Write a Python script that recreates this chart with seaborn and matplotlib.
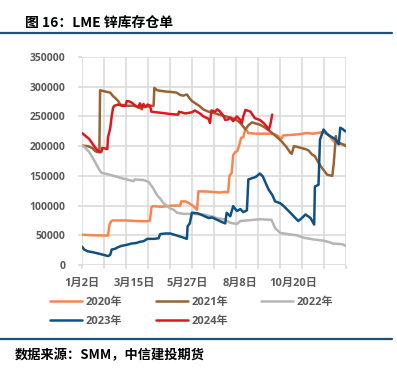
"""LME 锌库存仓单 — 2020-2024 年度对比折线图."""

import matplotlib

matplotlib.use("Agg")

import matplotlib.pyplot as plt
from matplotlib.lines import Line2D
import numpy as np
import seaborn as sns

# ---- 数据（横轴：自 1月2日 起的天数，纵轴：吨）----
years = ["2020年", "2021年", "2022年", "2023年", "2024年"]
colors = ["#F7864E", "#9A6233", "#B5B5B5", "#0E5186", "#E2161F"]

day_2020 = [0, 15, 34, 36, 38, 40, 42, 60, 75, 90, 94, 96, 98, 110, 125, 136, 137,
            143, 148, 154, 159, 161, 175, 190, 198, 202, 204, 207, 209, 212, 215,
            217, 220, 223, 225, 228, 230, 240, 260, 266, 270, 274, 276, 278, 290,
            300, 310, 320, 332, 340, 348, 352, 365]
val_2020 = [51000, 50000, 49500, 50000, 68000, 73000, 75000, 75000, 74000, 73500,
            75000, 97000, 99000, 98000, 100000, 100000, 107000, 107000, 104000,
            99000, 93000, 124000, 123500, 122000, 123000, 122000, 150000, 155000,
            185000, 190000, 192000, 200000, 214000, 215000, 225000, 226000, 222000,
            221000, 221000, 220000, 218000, 214000, 213000, 218000, 219000, 220000,
            222000, 221000, 223500, 220000, 208000, 205000, 202000]

day_2021 = [0, 8, 14, 18, 21, 24, 25, 32, 39, 43, 46, 50, 53, 60, 71, 78, 83, 84,
            88, 96, 99, 100, 104, 115, 125, 131, 136, 140, 145, 149, 152, 158, 163,
            168, 175, 182, 190, 196, 205, 210, 216, 221, 226, 230, 235, 246, 252,
            260, 267, 276, 283, 288, 290, 293, 300, 309, 313, 318, 322, 327, 332,
            339, 346, 348, 351, 352, 357, 365]
val_2021 = [201000, 200000, 197000, 192000, 190000, 190000, 294000, 292000, 290000,
            284000, 281000, 276000, 270000, 268000, 268000, 266000, 262000, 268000,
            266000, 268000, 268000, 298000, 294000, 292000, 291000, 290000, 286000,
            285000, 287000, 280000, 276000, 271000, 267000, 261500, 258000, 256000,
            253000, 251000, 248000, 246000, 242000, 236000, 228000, 235000, 240000,
            236000, 232000, 225000, 218000, 208000, 198000, 189000, 187000, 200000,
            198000, 195000, 193000, 186000, 183000, 172000, 163000, 152000, 150000,
            170000, 217000, 207000, 205000, 200000]

day_2022 = [0, 4, 10, 15, 20, 24, 27, 35, 44, 55, 65, 71, 73, 85, 92, 98, 104, 108,
            112, 117, 122, 127, 131, 140, 152, 168, 182, 186, 196, 205, 214, 219,
            246, 262, 267, 274, 285, 297, 306, 320, 334, 343, 347, 360, 365]
val_2022 = [201000, 198000, 190000, 180000, 169000, 160000, 155000, 153000, 150000,
            146000, 143000, 141000, 144000, 143000, 140000, 130000, 117000, 112000,
            105000, 100000, 95000, 93000, 88000, 86000, 86000, 85000, 81000, 79000,
            77000, 71000, 69000, 74000, 77000, 76000, 62000, 54000, 52000, 50000,
            46000, 43000, 41000, 38000, 36000, 35000, 32000]

day_2023 = [0, 3, 8, 13, 22, 30, 36, 39, 41, 45, 50, 54, 62, 68, 75, 80, 85, 89, 90,
            100, 106, 108, 115, 122, 130, 138, 145, 146, 149, 152, 160, 166, 175,
            180, 186, 194, 198, 200, 205, 209, 214, 219, 223, 228, 230, 235, 240,
            246, 250, 255, 258, 263, 267, 274, 279, 288, 299, 304, 309, 316, 321,
            322, 327, 329, 334, 339, 351, 355, 357, 360, 364]
val_2023 = [31000, 26000, 23000, 22000, 19500, 17000, 15000, 17000, 26000, 27000,
            30000, 32000, 34000, 36000, 37000, 39000, 40000, 43000, 44000, 44000,
            45000, 52000, 53000, 53000, 50000, 47000, 44000, 65000, 70000, 88000,
            87000, 84000, 79000, 80000, 76500, 72000, 70000, 88000, 82000, 99000,
            91000, 94000, 89000, 92000, 144000, 146000, 148000, 154000, 149000,
            135000, 127000, 118000, 107000, 104000, 99000, 88000, 74000, 79000,
            85000, 79000, 68000, 132000, 135000, 211000, 228000, 220000, 211000,
            203000, 231000, 229000, 225000]

day_2024 = [0, 6, 10, 14, 18, 22, 25, 27, 28, 32, 35, 36, 39, 41, 43, 45, 50, 55, 60,
            62, 66, 69, 74, 78, 80, 83, 85, 87, 91, 94, 96, 110, 122, 133, 134, 143,
            152, 156, 163, 168, 175, 177, 179, 184, 187, 191, 196, 198, 202, 205,
            209, 214, 219, 221, 223, 226, 233, 239, 246, 251, 256, 258, 260, 263]
val_2024 = [222000, 216000, 212000, 205000, 198000, 192000, 190000, 191000, 197000,
            196000, 195000, 215000, 230000, 250000, 265000, 268000, 270000, 268000,
            268000, 276000, 275000, 273000, 268000, 265000, 272000, 265000, 271000,
            266000, 270000, 268000, 258000, 256000, 254000, 253000, 258000, 255000,
            257000, 260000, 255000, 250000, 246000, 239000, 260000, 258000, 262000,
            258000, 250000, 244000, 245000, 248000, 242000, 250000, 244000, 239000,
            250000, 261000, 258000, 247000, 244000, 239000, 232000, 228000, 234000,
            253000]

tick_days = [0, 73, 146, 219, 292]
tick_labels = ["1月2日", "3月15日", "5月27日", "8月8日", "10月20日"]

series = [
    (day_2020, val_2020),
    (day_2021, val_2021),
    (day_2022, val_2022),
    (day_2023, val_2023),
    (day_2024, val_2024),
]

sns.set_theme(style="white")
plt.rcParams["font.family"] = ["Open Sans", "Noto Sans CJK SC", "DejaVu Sans"]
plt.rcParams["axes.unicode_minus"] = False

GRID = "#D9D9D9"
TEXT = "#595959"

fig = plt.figure(figsize=(3.97, 3.72), dpi=100)
ax = fig.add_axes([82 / 397, 1 - 265 / 372, 264 / 397, 208 / 372])

for (days, vals), year, color in zip(series, years, colors):
    sns.lineplot(x=days, y=vals, ax=ax, color=color, linewidth=1.8,
                 label=year, sort=False, estimator=None, legend=False)

ax.set_xlim(0, 365)
ax.set_ylim(0, 350000)
ax.set_yticks(np.arange(0, 350001, 50000))
ax.set_yticklabels([f"{v}" for v in range(0, 350001, 50000)])

# 主刻度 = 网格线，次刻度 = 日期标签
ax.xaxis.remove_overlapping_locs = False
ax.set_xticks(np.linspace(0, 365, 13))
ax.set_xticks(tick_days, minor=True)
ax.set_xticklabels(tick_labels, minor=True)
ax.tick_params(axis="x", which="major", length=3, color=GRID, width=1.1,
               labelbottom=False, bottom=True)
ax.tick_params(axis="x", which="minor", length=0, pad=9, labelsize=8,
               labelcolor=TEXT, bottom=True)
ax.tick_params(axis="y", length=3, color=GRID, width=1.1, pad=9,
               labelsize=7.5, labelcolor=TEXT, left=True)
for lab in ax.get_xticklabels(minor=True) + ax.get_yticklabels():
    lab.set_fontweight("bold")

ax.grid(True, which="major", color=GRID, linewidth=1.1)
ax.set_axisbelow(True)
for sp in ax.spines.values():
    sp.set_visible(False)
ax.set_xlabel("")
ax.set_ylabel("")

# 图例（两行三列，按行排列）
handles, labels = ax.get_legend_handles_labels()
order = [0, 3, 1, 4, 2]
leg = fig.legend([handles[i] for i in order], [labels[i] for i in order],
                 ncol=3, loc="upper left",
                 bbox_to_anchor=(50 / 397, 1 - 297 / 372), frameon=False,
                 borderpad=0, borderaxespad=0, handlelength=2.9,
                 handletextpad=0.3, columnspacing=3.0, labelspacing=0.7,
                 prop={"size": 8, "weight": "bold"})
for t in leg.get_texts():
    t.set_color(TEXT)
for h in leg.get_lines():
    h.set_linewidth(1.8)

# 标题与来源
fig.text(25 / 397, 1 - 23 / 372, "图 16：LME 锌库存仓单", ha="left", va="center",
         fontsize=10, fontweight="bold", color="#000000",
         family=["Noto Sans CJK SC", "DejaVu Sans"])
fig.text(15 / 397, 1 - 355 / 372, "数据来源：SMM，中信建投期货", ha="left",
         va="center", fontsize=9.5, fontweight="bold", fontstyle="italic",
         color="#000000", family=["Noto Sans CJK SC", "DejaVu Sans"])

fig.add_artist(Line2D([0, 392 / 397], [1 - 33 / 372] * 2, color="#1F4E79", lw=1.6))
fig.add_artist(Line2D([0, 392 / 397], [1 - 339 / 372] * 2, color="#1F4E79", lw=1.6))

fig.savefig("out.png", dpi=100)
plt.close(fig)
